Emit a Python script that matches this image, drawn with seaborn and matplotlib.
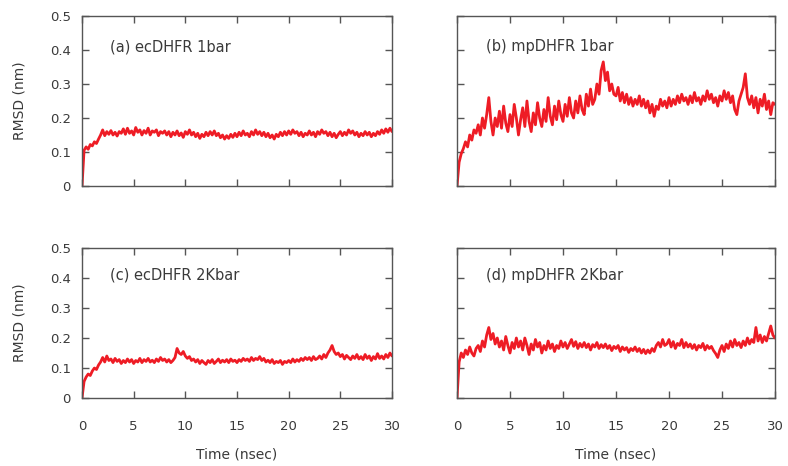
import numpy as np
import pandas as pd
import matplotlib
matplotlib.use("Agg")
import matplotlib.pyplot as plt
import seaborn as sns

# RMSD traces, every 0.2 ns, in units of 1e-3 nm
time_ns = np.linspace(0, 30, 151)

ec_1bar = [
    0, 105, 115, 108, 122, 118, 130, 125, 138, 150,
    165, 148, 160, 152, 163, 150, 158, 147, 160, 155,
    168, 152, 170, 155, 162, 150, 172, 158, 165, 150,
    163, 155, 170, 150, 162, 158, 165, 148, 160, 155,
    162, 150, 160, 145, 158, 150, 162, 148, 156, 143,
    160, 152, 165, 150, 158, 145, 155, 140, 152, 145,
    158, 148, 160, 150, 162, 148, 155, 142, 150, 138,
    148, 140, 152, 143, 155, 145, 158, 148, 162, 150,
    155, 145, 160, 150, 165, 152, 160, 148, 158, 145,
    155, 142, 150, 138, 152, 145, 158, 148, 160, 150,
    162, 152, 165, 155, 160, 148, 158, 145, 155, 150,
    162, 150, 158, 145, 160, 152, 165, 155, 160, 148,
    158, 145, 155, 142, 152, 160, 148, 158, 150, 165,
    155, 162, 150, 158, 145, 155, 148, 160, 150, 158,
    145, 155, 148, 160, 152, 165, 155, 168, 158, 170,
    160,
]

mp_1bar = [
    0, 70, 95, 110, 130, 115, 150, 135, 165, 155,
    180, 150, 200, 170, 210, 260, 190, 150, 200, 175,
    220, 170, 235, 185, 160, 210, 175, 240, 200, 150,
    195, 230, 175, 250, 190, 160, 215, 180, 245, 200,
    175, 225, 190, 260, 205, 180, 235, 195, 250, 210,
    190, 240, 205, 260, 215, 200, 250, 215, 265, 225,
    210, 270, 235, 285, 240, 255, 300, 270, 340, 365,
    310, 335, 280, 300, 270, 265, 290, 250, 275, 245,
    270, 240, 260, 235, 255, 240, 265, 235, 255, 230,
    250, 215, 240, 205, 235, 225, 255, 235, 250, 230,
    260, 235, 255, 240, 265, 245, 270, 250, 260, 240,
    265, 245, 275, 250, 260, 240, 265, 250, 280, 255,
    270, 245, 260, 235, 265, 250, 280, 255, 275, 245,
    265, 225, 210, 250, 270, 290, 330, 260, 240, 265,
    230, 260, 215, 255, 235, 270, 225, 250, 210, 245,
    240,
]

ec_2kbar = [
    0, 55, 70, 80, 75, 90, 100, 95, 110, 120,
    135, 120, 140, 125, 130, 118, 132, 122, 128, 115,
    125, 118, 130, 120, 128, 115, 125, 120, 132, 118,
    128, 122, 132, 120, 126, 118, 130, 122, 135, 125,
    130, 120, 128, 118, 125, 135, 165, 150, 145, 155,
    140, 132, 138, 125, 130, 120, 128, 115, 125, 118,
    112, 125, 118, 128, 115, 122, 130, 118, 126, 120,
    128, 118, 130, 122, 126, 118, 128, 122, 132, 125,
    130, 122, 135, 125, 132, 128, 138, 125, 132, 120,
    126, 118, 128, 115, 122, 118, 125, 112, 122, 118,
    125, 118, 130, 120, 128, 122, 132, 125, 135, 128,
    135, 125, 138, 128, 132, 140, 130, 145, 135, 150,
    160, 175, 155, 145, 150, 138, 145, 130, 142, 135,
    128, 140, 132, 145, 130, 138, 128, 145, 132, 140,
    125, 138, 130, 148, 132, 140, 130, 145, 135, 150,
    140,
]

mp_2kbar = [
    0, 120, 150, 135, 160, 145, 170, 150, 140, 165,
    175, 155, 190, 170, 210, 235, 195, 215, 180, 200,
    170, 190, 160, 205, 175, 150, 185, 165, 200, 170,
    190, 160, 200, 175, 145, 180, 160, 195, 170, 185,
    150, 175, 160, 190, 165, 180, 155, 175, 165, 190,
    170, 185, 165, 180, 195, 172, 188, 165, 182, 170,
    185, 168, 180, 160, 178, 170, 185, 165, 178, 168,
    180, 165, 175, 158, 172, 165, 175, 155, 170, 160,
    168, 152, 165, 158, 170, 155, 165, 150, 162, 148,
    160, 150, 165, 155, 175, 185, 170, 195, 175, 180,
    195, 170, 188, 165, 182, 175, 195, 168, 185, 170,
    180, 165, 178, 160, 175, 168, 182, 160, 175, 165,
    172, 158, 148, 135, 160, 175, 155, 180, 165, 190,
    170, 195, 175, 185, 168, 190, 175, 200, 180, 195,
    185, 235, 190, 210, 185, 205, 190, 215, 240, 210,
    200,
]

panel_labels = ["(a) ecDHFR 1bar", "(b) mpDHFR 1bar",
                "(c) ecDHFR 2Kbar", "(d) mpDHFR 2Kbar"]
series = [ec_1bar, mp_1bar, ec_2kbar, mp_2kbar]
y_ticks = [0, 0.1, 0.2, 0.3, 0.4, 0.5]
x_ticks = [0, 5, 10, 15, 20, 25, 30]

sns.set_theme(style="ticks")
plt.rcParams["font.family"] = ["DejaVu Sans"]

W, H = 788, 466
fig = plt.figure(figsize=(W / 100, H / 100), dpi=100)

# axes boxes in pixels: left, top, right, bottom
boxes = [(82, 16, 392, 186), (457, 16, 775, 186),
         (82, 248, 392, 398), (457, 248, 775, 398)]

frame_col = "#555555"
text_col = "#3a3a3a"
line_col = "#ee1c25"

for i, (box, vals, lab) in enumerate(zip(boxes, series, panel_labels)):
    l, t, r, b = box
    ax = fig.add_axes([l / W, 1 - b / H, (r - l) / W, (b - t) / H])
    df = pd.DataFrame({"time": time_ns, "rmsd": np.array(vals) / 1000.0})
    sns.lineplot(data=df, x="time", y="rmsd", ax=ax, color=line_col,
                 linewidth=2.0, estimator=None, sort=False)
    ax.set_xlim(0, 30)
    ax.set_ylim(0, 0.5)
    ax.set_xticks(x_ticks)
    ax.set_yticks(y_ticks)
    ax.tick_params(direction="in", length=5, width=1, color=frame_col,
                   top=True, right=True, labelsize=9.5, labelcolor=text_col)
    ax.tick_params(axis="x", pad=16)
    ax.tick_params(axis="y", pad=8)
    for sp in ax.spines.values():
        sp.set_color(frame_col)
        sp.set_linewidth(1)
    ax.set_yticklabels(["0", "0.1", "0.2", "0.3", "0.4", "0.5"])

    if i % 2 == 0:
        ax.set_ylabel("RMSD (nm)", fontsize=10, color=text_col)
        ax.yaxis.set_label_coords(-0.18, 0.5)
    else:
        ax.set_ylabel("")
        ax.set_yticklabels([])
    if i >= 2:
        ax.set_xlabel("Time (nsec)", fontsize=10, color=text_col, labelpad=10)
    else:
        ax.set_xlabel("")
        ax.set_xticklabels([])

    ax.text(0.09, 0.82, lab, transform=ax.transAxes, fontsize=10.5,
            color=text_col, va="center", ha="left")

fig.savefig("out.png", dpi=100)
